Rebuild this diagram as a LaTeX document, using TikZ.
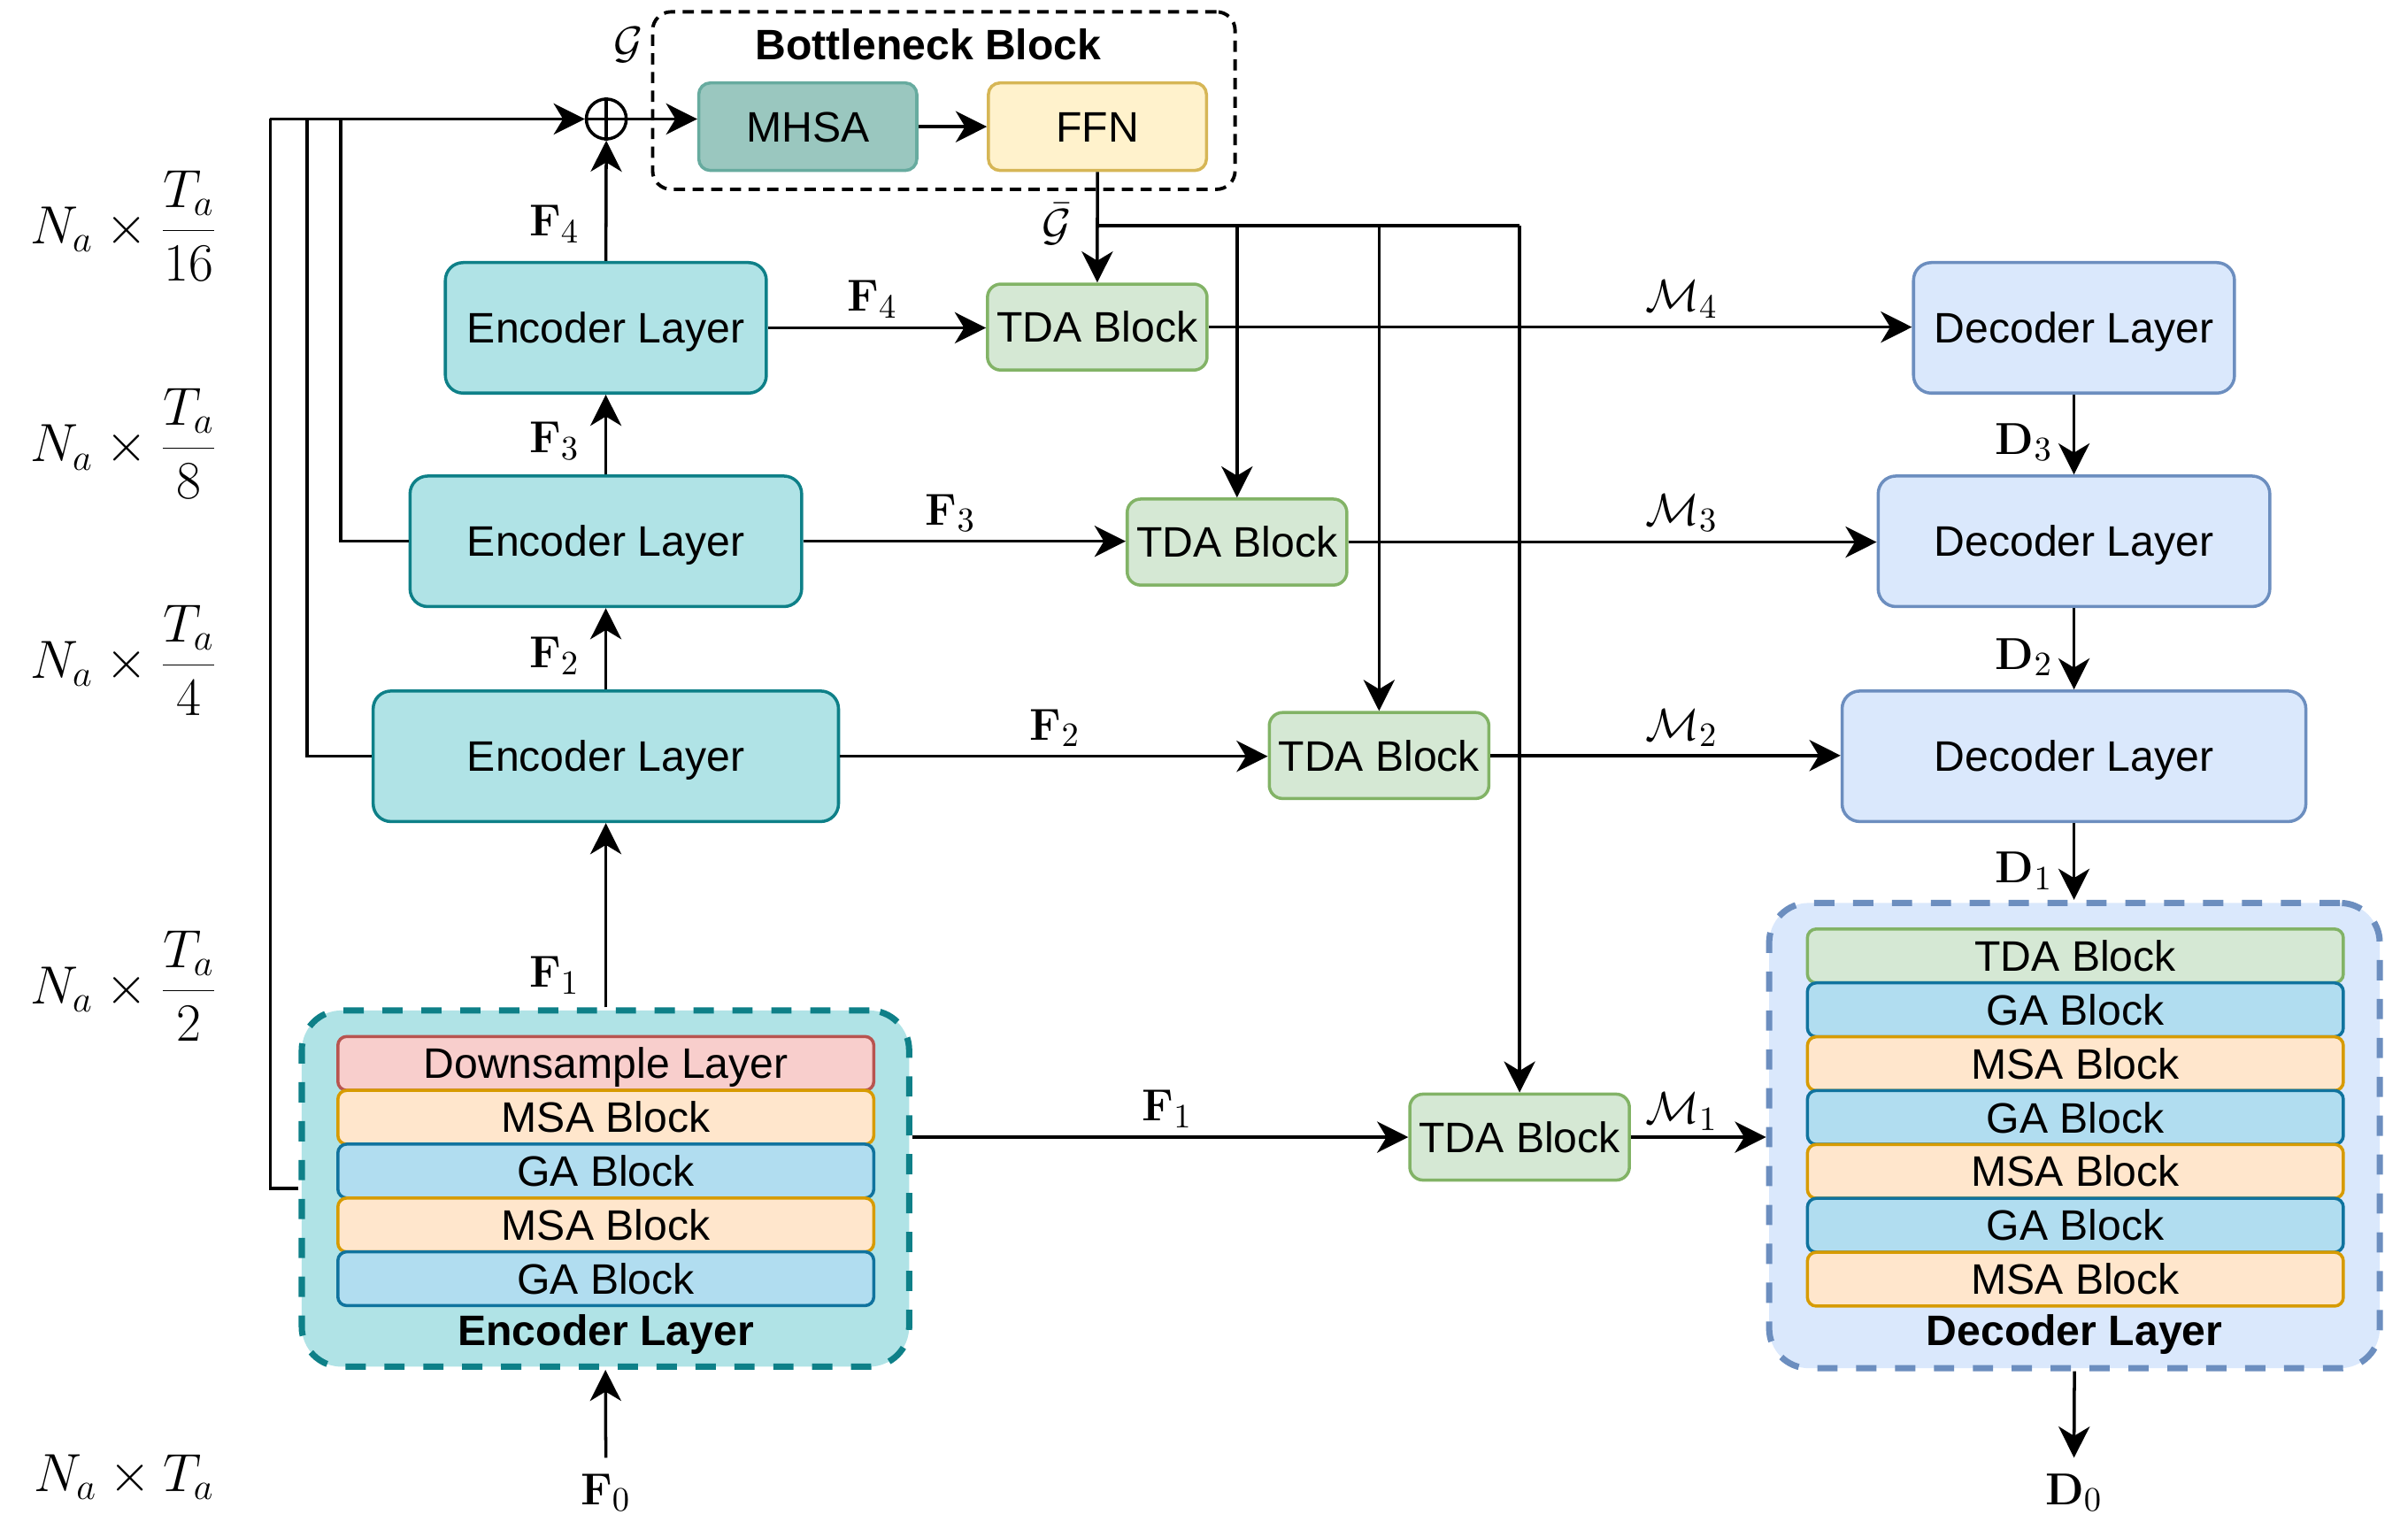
\documentclass[tikz,border=0pt]{standalone}
\usepackage[no-math]{fontspec}
\setmainfont{Liberation Sans}
\usetikzlibrary{arrows.meta,calc}
\newdimen\pxu \pxu=0.017353cm
\definecolor{encF}{HTML}{B0E3E6}\definecolor{encS}{HTML}{0E8088}
\definecolor{mhsaF}{HTML}{9AC7BF}\definecolor{mhsaS}{HTML}{67AB9F}
\definecolor{ffnF}{HTML}{FFF2CC}\definecolor{ffnS}{HTML}{D6B656}
\definecolor{tdaF}{HTML}{D5E8D4}\definecolor{tdaS}{HTML}{82B366}
\definecolor{decF}{HTML}{DAE8FC}\definecolor{decS}{HTML}{6C8EBF}
\definecolor{dsF}{HTML}{F8CECC}\definecolor{dsS}{HTML}{B85450}
\definecolor{msaF}{HTML}{FFE6CC}\definecolor{msaS}{HTML}{D79B00}
\definecolor{gaF}{HTML}{B1DDF0}\definecolor{gaS}{HTML}{10739E}
\tikzset{
  txt/.style={font=\fontsize{13.7}{16}\selectfont, text height=12.3pt, text depth=2.5pt},
  btxt/.style={font=\fontsize{13.7}{16}\selectfont\bfseries},
  encbox/.style={draw=encS, fill=encF, line width=1pt, rounded corners=0.2cm, minimum height=85*\pxu, inner sep=0pt, txt},
  decbox/.style={draw=decS, fill=decF, line width=1pt, rounded corners=0.2cm, minimum height=85*\pxu, inner sep=0pt, txt},
  tdabox/.style={draw=tdaS, fill=tdaF, line width=1pt, rounded corners=0.15cm, minimum width=143*\pxu, minimum height=56*\pxu, inner sep=0pt, txt},
  smallbox/.style={line width=1pt, rounded corners=0.13cm, minimum width=142*\pxu, minimum height=57*\pxu, inner sep=0pt, txt},
  blk/.style={line width=1pt, rounded corners=0.1cm, minimum width=349*\pxu, minimum height=35.07*\pxu, inner sep=0pt, txt},
  msab/.style={blk, draw=msaS, fill=msaF},
  gab/.style={blk, draw=gaS, fill=gaF},
  dsb/.style={blk, draw=dsS, fill=dsF},
  tdab/.style={blk, draw=tdaS, fill=tdaF},
  cont/.style={line width=2pt, rounded corners=0.45cm, dash pattern=on 6.5pt off 6pt, inner sep=0pt},
  ln/.style={line width=1pt},
  arr/.style={line width=1pt, -{Stealth[length=10pt,width=10pt,inset=3pt]}},
  lab/.style={font=\fontsize{15}{18}\selectfont, inner sep=1pt},
  dimlab/.style={font=\fontsize{17}{20}\selectfont, inner sep=0pt},
}
\begin{document}
\begin{tikzpicture}[x=0.017353cm,y=-0.017353cm]
\useasboundingbox (0,0) rectangle (1568,996);

% bottleneck
\node[draw, line width=1.1pt, dash pattern=on 3.6pt off 2.4pt, rounded corners=0.21cm, minimum width=379.3*\pxu, minimum height=115.6*\pxu, inner sep=0pt] (bn) at (614.6,65.5) {};
\node[btxt, anchor=base] (bnt) at (604.5,39) {Bottleneck Block};
\node[smallbox, draw=mhsaS, fill=mhsaF] (mhsa) at (526,82.5) {MHSA};
\node[smallbox, draw=ffnS, fill=ffnF] (ffn) at (714.6,82.5) {FFN};
\node[circle, draw, line width=1pt, minimum size=26*\pxu, inner sep=0pt] (plus) at (394.8,77.5) {};
\draw[line width=1pt] (plus.north) -- (plus.south) (plus.west) -- (plus.east);
\node[lab] (g) at (409,29) {$\mathcal{G}$};
\node[lab] (gb) at (688,146) {$\bar{\mathcal{G}}$};

% encoder layers
\node[encbox, minimum width=209*\pxu] (e4) at (394.5,213.5) {Encoder Layer};
\node[encbox, minimum width=255*\pxu] (e3) at (394.5,352.5) {Encoder Layer};
\node[encbox, minimum width=303*\pxu] (e2) at (394.5,492.5) {Encoder Layer};

% encoder container
\node[cont, draw=encS, fill=encF, minimum width=395.5*\pxu, minimum height=232*\pxu] (encC) at (394.25,774) {};
\node[dsb]  (eb1) at (394.5,692.5) {Downsample Layer};
\node[msab] (eb2) at (394.5,727.6) {MSA Block};
\node[gab]  (eb3) at (394.5,762.6) {GA Block};
\node[msab] (eb4) at (394.5,797.7) {MSA Block};
\node[gab]  (eb5) at (394.5,832.7) {GA Block};
\node[btxt, anchor=base] (enct) at (394.5,876) {Encoder Layer};

% TDA blocks
\node[tdabox] (t4) at (714.5,213) {TDA Block};
\node[tdabox] (t3) at (805.5,353) {TDA Block};
\node[tdabox] (t2) at (898,492) {TDA Block};
\node[tdabox] (t1) at (989.5,740.5) {TDA Block};

% decoder layers
\node[decbox, minimum width=209*\pxu] (d4) at (1350.5,213.5) {Decoder Layer};
\node[decbox, minimum width=255*\pxu] (d3) at (1350.5,352.5) {Decoder Layer};
\node[decbox, minimum width=302*\pxu] (d2) at (1350.5,492.5) {Decoder Layer};

% decoder container
\node[cont, draw=decS, fill=decF, minimum width=397.6*\pxu, minimum height=303*\pxu] (decC) at (1350.8,739.5) {};
\node[tdab] (db1) at (1351.4,622.5) {TDA Block};
\node[gab]  (db2) at (1351.4,657.6) {GA Block};
\node[msab] (db3) at (1351.4,692.7) {MSA Block};
\node[gab]  (db4) at (1351.4,727.7) {GA Block};
\node[msab] (db5) at (1351.4,762.8) {MSA Block};
\node[gab]  (db6) at (1351.4,797.9) {GA Block};
\node[msab] (db7) at (1351.4,833.0) {MSA Block};
\node[btxt, anchor=base] (dect) at (1350.8,876) {Decoder Layer};

% dimension labels
\node[dimlab] (n16) at (81,147) {$N_a\times\displaystyle\frac{T_a}{16}$};
\node[dimlab] (n8) at (81,289) {$N_a\times\displaystyle\frac{T_a}{8}$};
\node[dimlab] (n4) at (81,430) {$N_a\times\displaystyle\frac{T_a}{4}$};
\node[dimlab] (n2) at (81,642) {$N_a\times\displaystyle\frac{T_a}{2}$};
\node[dimlab] (n1) at (81,962) {$N_a\times T_a$};

% math labels
\node[lab] (lf4) at (361,146) {$\mathbf{F}_4$};
\node[lab] (lf3) at (361,287) {$\mathbf{F}_3$};
\node[lab] (lf2) at (361,427) {$\mathbf{F}_2$};
\node[lab] (lf1) at (361,635) {$\mathbf{F}_1$};
\node[lab] (hf4) at (568,195) {$\mathbf{F}_4$};
\node[lab] (hf3) at (619,334) {$\mathbf{F}_3$};
\node[lab] (hf2) at (687,474) {$\mathbf{F}_2$};
\node[lab] (hf1) at (760,722) {$\mathbf{F}_1$};
\node[lab] (m4) at (1095,195) {$\mathcal{M}_4$};
\node[lab] (m3) at (1095,334) {$\mathcal{M}_3$};
\node[lab] (m2) at (1095,474) {$\mathcal{M}_2$};
\node[lab] (m1) at (1095,724) {$\mathcal{M}_1$};
\node[lab] (ld3) at (1318,288) {$\mathbf{D}_3$};
\node[lab] (ld2) at (1318,428) {$\mathbf{D}_2$};
\node[lab] (ld1) at (1318,567) {$\mathbf{D}_1$};
\node[lab, inner sep=5pt] (f0) at (394.5,972) {$\mathbf{F}_0$};
\node[lab, inner sep=5pt] (d0) at (1350.5,972) {$\mathbf{D}_0$};

% feedback lines to the plus
\coordinate (c176) at (176,77.5);
\coordinate (c200) at (200,77.5);
\coordinate (c222) at (222,77.5);
\draw[ln] (encC.west) -| (c176);
\draw[ln] (e2.west) -| (c200);
\draw[ln] (e3.west) -| (c222);
\draw[arr] (c176) -- (plus.west);
\draw[arr] (plus.east) -- (plus.east -| mhsa.west);
\draw[arr] (mhsa.east) -- (ffn.west);

% encoder chain
\draw[arr] (f0.north) -- (encC.south);
\draw[arr] (e2.south |- encC.north) -- (e2.south);
\draw[arr] (e2.north) -- (e3.south);
\draw[arr] (e3.north) -- (e4.south);
\draw[arr] (e4.north) -- (plus.south);

% encoder to TDA
\draw[arr] (e4.east) -- (e4.east -| t4.west);
\draw[arr] (e3.east) -- (e3.east -| t3.west);
\draw[arr] (e2.east) -- (e2.east -| t2.west);
\draw[arr] (encC.east |- t1.west) -- (t1.west);

% G bar distribution
\coordinate (br) at (714.6,147);
\draw[arr] (ffn.south) -- (t4.north);
\draw[ln] (br) -- (br -| t1.north);
\draw[arr] (br -| t3.north) -- (t3.north);
\draw[arr] (br -| t2.north) -- (t2.north);
\draw[arr] (br -| t1.north) -- (t1.north);

% TDA to decoder
\draw[arr] (t4.east) -- (t4.east -| d4.west);
\draw[arr] (t3.east) -- (t3.east -| d3.west);
\draw[arr] (t2.east) -- (t2.east -| d2.west);
\draw[arr] (t1.east) -- (t1.east -| decC.west);

% decoder chain
\draw[arr] (d4.south) -- (d3.north);
\draw[arr] (d3.south) -- (d2.north);
\draw[arr] (d2.south) -- (d2.south |- decC.north);
\draw[arr] (decC.south) -- (d0.north);
\end{tikzpicture}
\end{document}
